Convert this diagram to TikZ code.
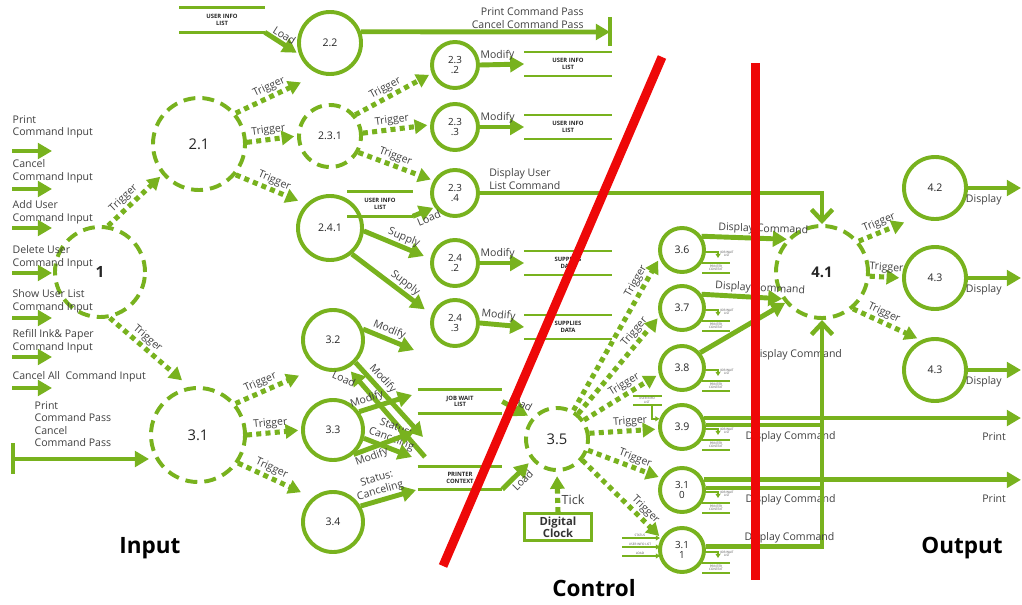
\documentclass[tikz,border=0pt]{standalone}
\usepackage{fontspec}
\setmainfont{Open Sans}
\usetikzlibrary{arrows.meta,calc}
\definecolor{lgreen}{RGB}{120,178,30}
\definecolor{cutred}{RGB}{238,8,8}
\definecolor{lblgray}{RGB}{64,64,64}
\tikzset{
	proc/.style={circle, draw=lgreen, line width=2.8pt, inner sep=0pt, align=center, text=black!85,
		minimum size=1.55cm, font=\fontsize{7.5}{8.5}\selectfont},
	sproc/.style={proc, minimum size=1.15cm, font=\fontsize{7}{7.5}\selectfont},
	tproc/.style={proc, minimum size=1.1cm},
	dproc/.style={proc, dash pattern=on 8.5pt off 5pt},
	bigproc/.style={dproc, minimum size=2.3cm, font=\fontsize{10.5}{12}\selectfont},
	datastore/.style={inner sep=0pt, minimum width=2.175cm, minimum height=0.575cm, align=center,
		text=black!85, font=\fontsize{4.2}{4.6}\selectfont\bfseries},
	storeline/.style={draw=lgreen, line width=1.8pt},
	flow/.style={draw=lgreen, line width=3.5pt, -{Triangle[length=10pt,width=11pt]}},
	thinflow/.style={draw=lgreen, line width=1.1pt, -{Triangle[length=3pt,width=3.5pt]}},
	link/.style={draw=lgreen, line width=3.2pt},
	barb/.style={draw=lgreen, line width=3.2pt, -{Straight Barb[length=8pt,width=15pt]}},
	trig/.style={draw=lgreen, line width=3.6pt, dash pattern=on 3.6pt off 3pt,
		-{Triangle[length=9pt,width=10pt]}, shorten >=2pt},
	lbl/.style={font=\fontsize{7.5}{8.8}\selectfont, text=lblgray, inner sep=1pt, align=center},
	tlab/.style={lbl, sloped, above},
	blab/.style={lbl, sloped, below},
	minitext/.style={font=\fontsize{2.2}{2.5}\selectfont, text=black!70, inner sep=0pt, align=center},
	cut/.style={draw=cutred, line width=6.4pt},
	zone/.style={font=\fontsize{16}{18}\selectfont\bfseries, text=black},
}
\begin{document}
\begin{tikzpicture}[x=0.025cm, y=-0.025cm]
	\useasboundingbox (0,0) rectangle (1022,605);

	% processes
	\node[bigproc, minimum size=2.25cm, font=\fontsize{11}{12}\selectfont\bfseries] (n1) at (100,272) {1};
	\node[bigproc] (n21) at (199,144) {2.1};
	\node[bigproc, minimum size=2.35cm] (n31) at (198,435) {3.1};
	\node[proc] (n22) at (330,43) {2.2};
	\node[dproc] (n231) at (330,136) {2.3.1};
	\node[proc, minimum size=1.6cm] (n241) at (330,228) {2.4.1};
	\node[sproc] (n232) at (455,65) {2.3\\.2};
	\node[sproc] (n233) at (455,127) {2.3\\.3};
	\node[sproc] (n234) at (455,193) {2.3\\.4};
	\node[sproc] (n242) at (455,263) {2.4\\.2};
	\node[sproc] (n243) at (455,323) {2.4\\.3};
	\node[proc, minimum size=1.5cm] (n32) at (333,340) {3.2};
	\node[proc, minimum size=1.5cm] (n33) at (333,430) {3.3};
	\node[proc, minimum size=1.5cm] (n34) at (333,522) {3.4};
	\node[dproc, font=\fontsize{10.5}{12}\selectfont] (n35) at (557,439) {3.5};
	\node[tproc] (n36) at (682,250) {3.6};
	\node[tproc] (n37) at (682,308) {3.7};
	\node[tproc] (n38) at (682,368) {3.8};
	\node[tproc] (n39) at (682,427) {3.9};
	\node[tproc, font=\fontsize{7}{7.5}\selectfont] (n310) at (682,490) {3.1\\0};
	\node[tproc, font=\fontsize{7}{7.5}\selectfont] (n311) at (682,550) {3.1\\1};
	\node[bigproc, font=\fontsize{10.5}{12}\selectfont\bfseries] (n41) at (822,272) {4.1};
	\node[proc] (n42) at (935,188) {4.2};
	\node[proc] (n43) at (935,278) {4.3};
	\node[proc] (n44) at (935,370) {4.3};
	\node[draw=lgreen, line width=1.8pt, inner sep=0pt, minimum width=1.675cm, minimum height=0.675cm,
		align=center, font=\fontsize{8}{8.5}\selectfont\bfseries, text=black!80] (clock) at (558,527) {Digital\\Clock};

	% data stores
	\node[datastore, minimum width=2.125cm, minimum height=0.6cm] (su0) at (222,20) {USER INFO\\LIST};
	\node[datastore] (su1) at (568,64) {USER INFO\\LIST};
	\node[datastore] (su2) at (568,127) {USER INFO\\LIST};
	\node[datastore, minimum width=1.625cm, minimum height=0.6cm] (su3) at (380,204) {USER INFO\\LIST};
	\node[datastore] (su4) at (568,263) {SUPPLIES\\DATA};
	\node[datastore] (su5) at (568,327) {SUPPLIES\\DATA};
	\node[datastore, minimum width=2.1cm] (sj) at (460,401.5) {JOB WAIT\\LIST};
	\node[datastore, minimum width=2.1cm, minimum height=0.55cm] (sp) at (460,478) {PRINTER\\CONTEXT};
	\foreach \s in {su0,su1,su2,su3,su4,su5,sj,sp}
		\draw[storeline] (\s.north west) -- (\s.north east) (\s.south west) -- (\s.south east);

	% free ends
	\coordinate (ppass) at (610,32);
	\coordinate (cpass) at (13,459);
	\coordinate (rx) at (1021,0);
	\coordinate (m32a) at (414,350);
	\coordinate (m32b) at (423,437);
	\coordinate (l32) at (425,457);
	\coordinate (m33a) at (412,395);
	\coordinate (m33b) at (412,457);
	\coordinate (m33c) at (414,432);
	\coordinate (m34) at (416,490);

	% inputs
	\foreach \ty/\ay/\t [count=\i] in {114/151/{Print\\Command Input}, 158/189/{Cancel\\Command Input},
		199/228/{Add User\\Command Input}, 244/273/{Delete User\\Command Input},
		288/318/{Show User List\\Command Input}, 328/357/{Refill Ink\& Paper\\Command Input},
		370/388/{Cancel All~ Command Input}} {
		\node[lbl, anchor=north west, align=left] (in\i) at (11,\ty) {\t};
		\draw[flow] (12,\ay) -- (52,\ay);
	}
	\node[lbl, anchor=north west, align=left] (passtxt) at (33,400) {Print\\Command Pass\\Cancel\\Command Pass};
	\draw[draw=lgreen, line width=2.4pt] ($(cpass)+(0,-16)$) -- ($(cpass)+(0,15)$);
	\draw[flow] (cpass) -- (cpass -| n31.west);

	% triggers
	\draw[trig] (n1.80) -- node[tlab, pos=0.4] {Trigger} (n21.220);
	\draw[trig, shorten >=7pt] (n1.-78) -- node[tlab, pos=0.4] {Trigger} (n31.100);
	\draw[trig, shorten >=14pt] (n21.40) -- node[tlab, pos=0.45] {Trigger} (n22.250);
	\draw[trig] (n21.2) -- node[tlab, pos=0.45] {Trigger} (n231.180);
	\draw[trig, shorten >=6pt] (n21.-40) -- node[tlab, pos=0.5] {Trigger} (n241.135);
	\draw[trig] (n231.40) -- node[tlab, pos=0.45] {Trigger} (n232.200);
	\draw[trig] (n231.5) -- node[tlab, pos=0.45] {Trigger} (n233.175);
	\draw[trig] (n231.-30) -- node[tlab, pos=0.45] {Trigger} (n234.150);
	\draw[trig, shorten >=14pt] (n31.40) -- node[tlab, pos=0.35] {Trigger} (n32.240);
	\draw[trig] (n31.0) -- node[tlab, pos=0.45] {Trigger} (n33.180);
	\draw[trig, shorten >=9pt] (n31.-35) -- node[tlab, pos=0.4] {Trigger} (n34.130);
	\draw[trig] (n35.60) -- node[tlab, pos=0.82] {Trigger} (n36.200);
	\draw[trig] (n35.50) -- node[tlab, pos=0.78] {Trigger} (n37.200);
	\draw[trig] (n35.35) -- node[tlab, pos=0.6] {Trigger} (n38.195);
	\draw[trig] (n35.10) -- node[tlab, pos=0.6] {Trigger} (n39.185);
	\draw[trig] (n35.-20) -- node[tlab, pos=0.6] {Trigger} (n310.150);
	\draw[trig] (n35.-40) -- node[tlab, pos=0.72] {Trigger} (n311.150);
	\draw[trig, shorten >=11pt] (n41.40) -- node[tlab, pos=0.4] {Trigger} (n42.240);
	\draw[trig] (n41.-5) -- node[tlab, pos=0.5] {Trigger} (n43.180);
	\draw[trig, shorten >=3pt] (n41.-50) -- node[tlab, pos=0.4] {Trigger} (n44.115);
	\draw[trig, shorten >=3pt] (clock.north) -- node[lbl, right, pos=0.3, font=\fontsize{9}{10}\selectfont] {Tick} (n35.south);

	% data flows
	\draw[flow, shorten >=2pt] (su0.south east) -- node[tlab, pos=0.45] {Load} (n22.200);
	\draw[flow] (n22.20) -- (ppass)
		node[lbl, pos=1, anchor=south east, align=right, xshift=-16pt] {Print Command Pass\\Cancel Command Pass};
	\draw[draw=lgreen, line width=2.4pt] ($(ppass)+(0,-15)$) -- ($(ppass)+(0,14)$);
	\draw[flow] (n232.east) -- node[tlab, pos=0.4] {Modify} (su1.west);
	\draw[flow] (n233.east) -- node[tlab, pos=0.4] {Modify} (su2.west);
	\draw[flow] (n242.east) -- node[tlab, pos=0.4] {Modify} (su4.west);
	\draw[flow] (n243.east) -- node[tlab, pos=0.4] {Modify} (su5.west);
	\draw[barb] (n234.east) -| node[lbl, pos=0, anchor=south west, align=left, xshift=4pt] {Display User\\List Command} (n41.north);
	\draw[flow, shorten >=1pt] (su3.south east) -- node[blab, pos=0.6] {Load} (n234.215);
	\draw[flow, shorten >=5pt] (n241.-5) -- node[tlab, pos=0.55] {Supply} (n242.170);
	\draw[flow, shorten >=6pt] (n241.-50) -- node[tlab, pos=0.6] {Supply} (n243.160);

	\draw[flow] (n32.20) -- node[tlab, pos=0.45] {Modify} (m32a);
	\draw[flow] (n32.-45) -- node[tlab, pos=0.3] {Modify} (m32b);
	\draw[flow, shorten >=3pt] (l32) -- (n32.-62);
	\node[lbl, rotate=-25] (tload) at (344,379) {Load};
	\draw[flow] (n33.35) -- node[tlab, pos=0.2] {Modify} (m33a);
	\draw[flow] (n33.-15) -- node[tlab, pos=0.5] {Status:\\Canceling} (m33b);
	\draw[flow] (n33.-50) -- node[blab, pos=0.25] {Modify} (m33c);
	\draw[flow] (n34.30) -- node[tlab, pos=0.4] {Status:\\Canceling} (m34);
	\draw[flow, shorten >=3pt] (sj.east) -- node[tlab, pos=0.5] {Load} (n35.140);
	\draw[flow, shorten >=3pt] (sp.south east) -- node[blab, pos=0.5] {Load} (n35.220);

	% display commands
	\draw[flow] (n36.35) -- node[tlab, pos=0.72] {Display Command} (n41.137);
	\draw[flow] (n37.35) -- node[tlab, pos=0.72] {Display Command} (n41.214);
	\draw[flow] (n38.40) -- (n41.220);
	\node[lbl] (dc38) at (797,355) {Display Command};
	\draw[link] (n39.5) -- node[lbl, below, pos=0.73, yshift=-2pt] {Display Command} (n39.5 -| n41.south);
	\draw[link] (n310.5) -- node[lbl, below, pos=0.73, yshift=-2pt] {Display Command} (n310.5 -| n41.south);
	\draw[barb] (n311.8) -| node[lbl, above, pos=0.36] {Display Command} (n41.south);
	\draw[flow] (n39.22) -- (n39.22 -| rx) node[lbl, pos=1, anchor=north east, xshift=-8pt, yshift=-8pt] {Print};
	\draw[flow] (n310.25) -- (n310.25 -| rx) node[lbl, pos=1, anchor=north east, xshift=-8pt, yshift=-8pt] {Print};

	% outputs
	\foreach \o in {n42,n43,n44}
		\draw[flow] (\o.east) -- (\o.east -| rx) node[lbl, pos=1, anchor=north east, xshift=-11pt, yshift=-2pt] {Display};

	% small stores beside 3.6 .. 3.11
	\foreach \p in {n36,n37,n38,n39,n310,n311} {
		\draw[thinflow] ($(\p)+(21,2)$) -| ($(\p)+(36,8)$);
		\node[minitext] (\p-a) at ($(\p)+(45,4)$) {JOB WAIT\\LIST};
		\draw[draw=lgreen, line width=1.3pt] ($(\p)+(20,13)$) -- ++(28,0) ($(\p)+(20,23)$) -- ++(28,0);
		\node[minitext] (\p-b) at ($(\p)+(34,18)$) {PRINTER\\CONTEXT};
	}
	\draw[draw=lgreen, line width=1.3pt] (633,396) -- (662,396) (633,405) -- (662,405);
	\node[minitext] (s39) at (647,400.5) {USER INFO\\LIST};
	\draw[thinflow] (652,405) |- (n39.160);
	\foreach \y/\t [count=\i] in {538/{STATUS}, 547/{USER INFO LIST}, 556/{LOAD}} {
		\draw[thinflow] (622,\y) -- (660,\y);
		\node[minitext, anchor=south] (t311\i) at (640,\y-1) {\t};
	}

	% zones
	\node[zone] (zin) at (150,548) {Input};
	\node[zone] (zctl) at (594,588) {Control};
	\node[zone] (zout) at (962,548) {Output};

	% boundaries
	\draw[cut] (662,57) -- (443,566);
	\draw[cut] (755,63) -- (755,580);
\end{tikzpicture}
\end{document}
